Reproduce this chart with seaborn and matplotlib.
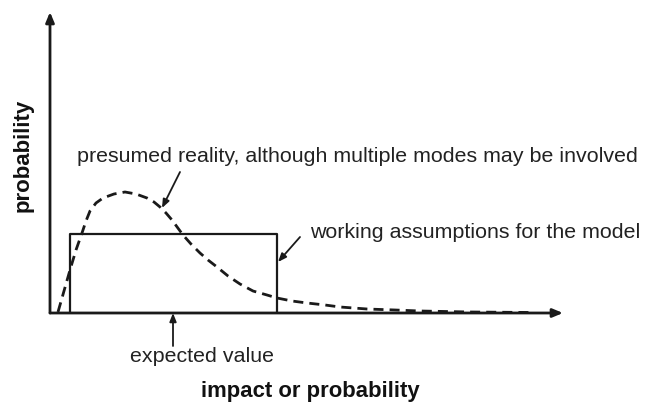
import matplotlib
matplotlib.use("Agg")
import matplotlib.pyplot as plt
import seaborn as sns
import pandas as pd

# Schematic values (x: impact, y: probability)
curve_x = [8, 14, 20, 26, 32, 36, 40, 46, 53, 64, 75, 86, 97, 104, 110, 116, 122, 133, 141, 150,
           158, 167, 178, 190, 203, 217, 227, 242, 257, 275, 290, 317, 345, 370, 420, 483]
curve_y = [1, 22, 43, 63, 80, 92, 102, 110, 115, 119, 121, 119, 115, 111, 106, 100, 93, 78, 69, 60,
           53, 46, 37, 29, 22, 18, 15, 12, 10, 8, 6, 4, 3, 2, 1, 0.5]
rect_x = [20, 20, 227, 227]
rect_y = [0, 79, 79, 0]
expected_value = 123

label_reality = "presumed reality, although multiple modes may be involved"
label_model = "working assumptions for the model"
label_expected = "expected value"
xlabel = "impact or probability"
ylabel = "probability"

sns.set_theme(style="white")
plt.rcParams['font.family'] = ['Liberation Sans', 'DejaVu Sans']

fig = plt.figure(figsize=(6.5, 4.05), dpi=100)
ax = fig.add_axes([50/650, 92/405, 513/650, 301/405])
ax.set_xlim(0, 513)
ax.set_ylim(0, 301)

curve_df = pd.DataFrame({"x": curve_x, "y": curve_y})
rect_df = pd.DataFrame({"x": rect_x, "y": rect_y})

sns.lineplot(data=curve_df, x="x", y="y", sort=False, estimator=None, ax=ax,
             color="#1a1a1a", linewidth=2.0, linestyle=(0, (3.6, 2.2)))
sns.lineplot(data=rect_df, x="x", y="y", sort=False, estimator=None, ax=ax,
             color="#1a1a1a", linewidth=1.6)

for s in ax.spines.values():
    s.set_visible(False)
ax.set_xticks([])
ax.set_yticks([])
ax.set_xlabel("")
ax.set_ylabel("")

ak = dict(arrowstyle="-|>,head_length=0.6,head_width=0.25", color="#1a1a1a", lw=2.0,
          shrinkA=0, shrinkB=0, mutation_scale=10)
# axes with arrows
ax.annotate("", xy=(0, 1), xytext=(0, 0), xycoords="axes fraction", arrowprops=ak, annotation_clip=False)
ax.annotate("", xy=(1, 0), xytext=(0, 0), xycoords="axes fraction", arrowprops=ak, annotation_clip=False)

tk = dict(fontsize=15.4, color="#222222")
pk = dict(arrowstyle="-|>,head_length=0.5,head_width=0.2", color="#1a1a1a", lw=1.3,
          shrinkA=0, shrinkB=0, mutation_scale=10)
ax.text(27, 156, label_reality, ha="left", va="center", **tk)
ax.annotate("", xy=(112, 105), xytext=(130, 141), arrowprops=pk, annotation_clip=False)
ax.text(260, 81, label_model, ha="left", va="center", **tk)
ax.annotate("", xy=(228, 51), xytext=(250, 76), arrowprops=pk, annotation_clip=False)
ax.text(152, -43, label_expected, ha="center", va="center", clip_on=False, **tk)
ax.annotate("", xy=(expected_value, 0), xytext=(expected_value, -33), arrowprops=pk, annotation_clip=False)

ax.text(260, -79, xlabel, ha="center", va="center", fontsize=15.9, fontweight="bold",
        color="#111111", clip_on=False)
ax.text(-27, 158, ylabel, ha="center", va="center", rotation=90, fontsize=16,
        fontweight="bold", color="#111111", clip_on=False)

fig.savefig("out.png", dpi=100)
